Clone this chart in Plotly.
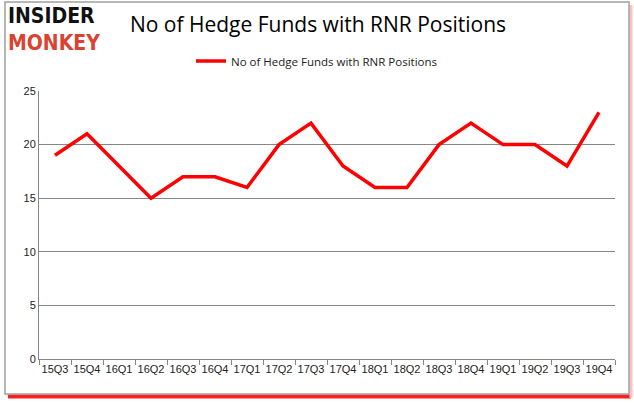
import plotly.graph_objects as go

quarters = ["15Q3", "15Q4", "16Q1", "16Q2", "16Q3", "16Q4", "17Q1", "17Q2", "17Q3",
            "17Q4", "18Q1", "18Q2", "18Q3", "18Q4", "19Q1", "19Q2", "19Q3", "19Q4"]
funds = [19, 21, 18, 15, 17, 17, 16, 20, 22, 18, 16, 16, 20, 22, 20, 20, 18, 23]
series_name = "No of Hedge Funds with RNR Positions"
y_ticks = [0, 5, 10, 15, 20, 25]

W, H = 634, 404
L, R, T, B = 39, 19, 91, 45
PW, PH = W - L - R, H - T - B


def px_x(x):
    return (x - L) / PW


def px_y(y):
    return (H - B - y) / PH


fig = go.Figure()
fig.add_trace(go.Scatter(
    x=quarters, y=funds, mode="lines", name=series_name,
    line=dict(color="#ff0000", width=3.5),
))

font_main = "Open Sans"
fig.update_layout(
    width=W, height=H,
    margin=dict(l=L, r=R, t=T, b=B, autoexpand=False),
    paper_bgcolor="white", plot_bgcolor="white",
    showlegend=True,
    legend=dict(orientation="h", x=0.5, xanchor="center", xref="container",
                y=1 - 61 / H, yanchor="middle", yref="container",
                font=dict(family=font_main, size=11.5, color="#222"),
                bgcolor="rgba(0,0,0,0)", itemwidth=30),
    title=dict(text="No of Hedge Funds with RNR Positions", x=318 / W, xanchor="center",
               y=1 - 25 / H, yanchor="middle",
               font=dict(family=font_main, size=21, color="black")),
    xaxis=dict(type="category", range=[-0.5, len(quarters) - 0.5], showgrid=False,
               showline=True, linecolor="#868686", linewidth=1,
               ticks="outside", tickcolor="#868686", ticklen=5, tickson="boundaries",
               tickangle=0,
               tickfont=dict(family="Liberation Sans", size=11, color="#222"),
               fixedrange=True),
    yaxis=dict(range=[0, 25], tickvals=y_ticks, showgrid=True, gridcolor="#868686",
               gridwidth=1, showline=True, linecolor="#868686", zeroline=False,
               ticks="", tickfont=dict(family="Liberation Sans", size=11, color="#222")),
)

# logo
fig.add_annotation(text="<b>INSIDER</b><br><span style='color:#d9432f'><b>MONKEY</b></span>",
                   xref="paper", yref="paper", x=px_x(7), y=px_y(30),
                   xanchor="left", yanchor="middle", align="left", showarrow=False,
                   borderpad=0,
                   font=dict(family="DejaVu Sans Condensed", size=21, color="#111"))

# frame with red shadow
fig.add_shape(type="line", xref="paper", yref="paper",
              x0=px_x(8), x1=px_x(631), y0=px_y(396.5), y1=px_y(396.5),
              line=dict(color="#ff2020", width=4), layer="below")
fig.add_shape(type="line", xref="paper", yref="paper",
              x0=px_x(631), x1=px_x(631), y0=px_y(5), y1=px_y(398),
              line=dict(color="#ffc0c0", width=3), layer="below")
fig.add_shape(type="rect", xref="paper", yref="paper",
              x0=px_x(5), x1=px_x(629), y0=px_y(394), y1=px_y(2),
              line=dict(color="#a0a0a0", width=1.5), layer="below")

fig.write_html("out.html", config={"displayModeBar": False},
               post_script="document.body.style.margin='0';document.body.style.padding='0';")
